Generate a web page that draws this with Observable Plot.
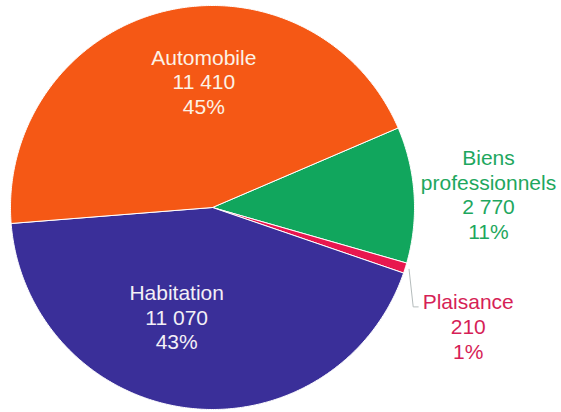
<!DOCTYPE html>
<html>
<head>
<meta charset="utf-8">
<script src="https://cdn.jsdelivr.net/npm/d3@7"></script>
<script src="https://cdn.jsdelivr.net/npm/@observablehq/plot@0.6"></script>
<style>
  html, body { margin: 0; padding: 0; background: #ffffff; }
  #chart svg { display: block; }
</style>
</head>
<body>
<div id="chart"></div>
<script>
// ---- data (clockwise order starting at the Automobile / Biens boundary) ----
const categories = ["Biens professionnels", "Plaisance", "Habitation", "Automobile"];
const labelTitles = ["Biens\nprofessionnels", "Plaisance", "Habitation", "Automobile"];
const values = [2770, 210, 11070, 11410];

// ---- styles / layout ----
const sliceColors = ["#11a65d", "#e8174f", "#3a2f99", "#f55815"];
const textColors  = ["#1ea75e", "#d61f57", "#f3f0f6", "#fcf2e6"];
// label placement: radius (fraction of pie radius) on the slice mid-angle, plus pixel nudges
const labelLayout = [
  {r: 1.369, dx: 0,   dy: 4},
  {r: 1.327, dx: 0,   dy: 38},
  {r: 0.545, dx: -22, dy: 0},
  {r: 0.633, dx: 22,  dy: -2}
];
const W = 561, H = 412;
const CX = 212, CY = 207, R = 202;   // pie centre & radius in pixels
const startDeg = 66.8;

const total = d3.sum(values);
const fr = d3.formatLocale({decimal: ",", thousands: " ", grouping: [3], currency: ["", " €"]});
const fmt = fr.format(",d");

const pie = d3.pie().sort(null).value(d => d)
  .startAngle(startDeg * Math.PI / 180)
  .endAngle(startDeg * Math.PI / 180 + 2 * Math.PI);
const arcs = pie(values);

// slice polygons in unit coordinates (x right, y up)
const polys = arcs.map((a, i) => {
  const pts = [{x: 0, y: 0}];
  const n = Math.max(4, Math.ceil((a.endAngle - a.startAngle) / (Math.PI / 360)));
  for (let k = 0; k <= n; k++) {
    const t = a.startAngle + (a.endAngle - a.startAngle) * k / n;
    pts.push({x: Math.sin(t), y: Math.cos(t)});
  }
  pts.push({x: 0, y: 0});
  return pts;
});

const labels = arcs.map((a, i) => {
  const m = (a.startAngle + a.endAngle) / 2;
  const L = labelLayout[i];
  return {
    x: Math.sin(m) * L.r, y: Math.cos(m) * L.r,
    dx: L.dx, dy: L.dy,
    text: `${labelTitles[i]}\n${fmt(values[i])}\n${Math.round(values[i] / total * 100)}%`,
    color: textColors[i], mid: m
  };
});

// leader line for the small Plaisance slice
const pl = labels[1];
const plPx = {x: CX + pl.x * R + pl.dx, y: CY - pl.y * R + pl.dy};
const leader = [
  {x: Math.sin(pl.mid) * 1.02, y: Math.cos(pl.mid) * 1.02},
  {x: (plPx.x - 55 - CX) / R, y: (CY - (plPx.y - 19)) / R},
  {x: (plPx.x - 50 - CX) / R, y: (CY - (plPx.y - 19)) / R}
];

const marks = [];
polys.forEach((p, i) => {
  marks.push(Plot.line(p, {x: "x", y: "y", fill: sliceColors[i], stroke: "#ffffff", strokeWidth: 1, strokeLinejoin: "round"}));
});
marks.push(Plot.line(leader, {x: "x", y: "y", stroke: "#b5bcbc", strokeWidth: 1}));
labels.forEach(l => {
  marks.push(Plot.text([l], {x: "x", y: "y", text: "text", fill: l.color, dx: l.dx, dy: l.dy,
    fontSize: 21, lineHeight: 1.18, textAnchor: "middle"}));
});

const chart = Plot.plot({
  width: W, height: H,
  margin: 0,
  style: {fontFamily: "'Liberation Sans', Arial, sans-serif", background: "#ffffff"},
  x: {domain: [-CX / R, (W - CX) / R], range: [0, W], axis: null},
  y: {domain: [-(H - CY) / R, CY / R], range: [H, 0], axis: null},
  marks
});
document.getElementById("chart").appendChild(chart);
</script>
</body>
</html>
